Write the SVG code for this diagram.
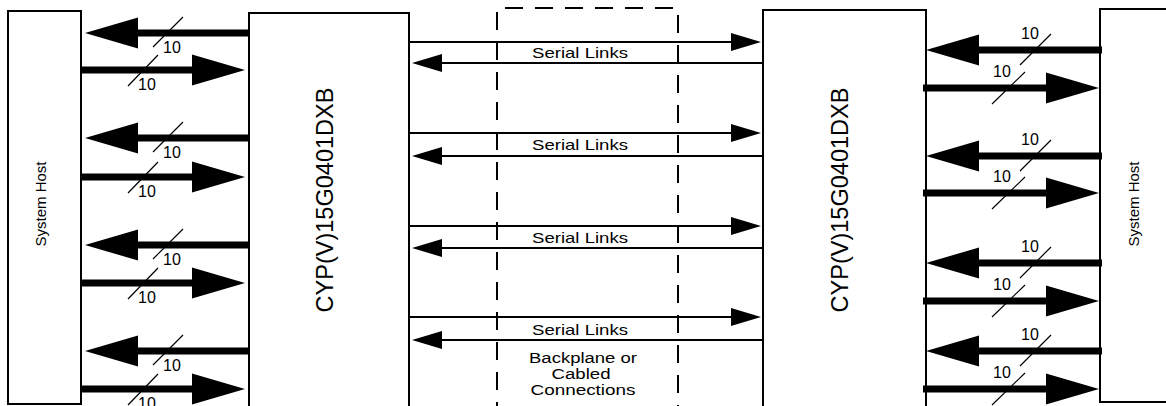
<svg xmlns="http://www.w3.org/2000/svg" width="1166" height="406" viewBox="0 0 1166 406">
<style>
.box{fill:#fff;stroke:#000;stroke-width:2}
.dash{fill:none;stroke:#000;stroke-width:2;stroke-dasharray:18 12}
.thick{stroke:#000;stroke-width:7;fill:none}
.thin{stroke:#000;stroke-width:2;fill:none}
.slash{stroke:#000;stroke-width:1.2;fill:none}
text{font-family:"Liberation Sans",Arial,Helvetica,sans-serif;fill:#000}
.n{font-size:16px}
.chip{font-size:24px}
.host{font-size:15px}
.sl{font-size:15px}
.bp{font-size:14px}
</style>
<defs>
<marker id="bigHead" markerUnits="userSpaceOnUse" markerWidth="54" markerHeight="32" refX="0" refY="15.5" orient="auto" overflow="visible">
<path d="M0,0 L53,15.5 L0,31 Z" fill="#000"/>
</marker>
<marker id="smallHead" markerUnits="userSpaceOnUse" markerWidth="31" markerHeight="19" refX="0" refY="9" orient="auto" overflow="visible">
<path d="M0,0 L30,9 L0,18 Z" fill="#000"/>
</marker>
</defs>
<rect width="1166" height="406" fill="#fff"/>

<g id="host-left">
<rect class="box" x="8" y="11" width="73" height="393"/>
<text class="host" text-anchor="middle" transform="translate(46,204) rotate(-90)">System Host</text>
</g>
<g id="chip-left">
<rect class="box" x="249" y="13" width="160" height="400"/>
<text class="chip" text-anchor="middle" textLength="225" lengthAdjust="spacingAndGlyphs" transform="translate(333,200) rotate(-90)">CYP(V)15G0401DXB</text>
</g>
<g id="backplane">
<path class="dash" d="M497,420 L497,8 L678,8 L678,420"/>
<text class="bp" x="583" y="363" text-anchor="middle" textLength="108" lengthAdjust="spacingAndGlyphs">Backplane or</text>
<text class="bp" x="581" y="379" text-anchor="middle" textLength="59" lengthAdjust="spacingAndGlyphs">Cabled</text>
<text class="bp" x="583" y="395" text-anchor="middle" textLength="105" lengthAdjust="spacingAndGlyphs">Connections</text>
</g>
<g id="chip-right">
<rect class="box" x="763" y="10" width="163" height="403"/>
<text class="chip" text-anchor="middle" textLength="225" lengthAdjust="spacingAndGlyphs" transform="translate(848,200) rotate(-90)">CYP(V)15G0401DXB</text>
</g>
<g id="host-right">
<rect class="box" x="1100" y="9" width="80" height="393"/>
<text class="host" text-anchor="middle" transform="translate(1139,204) rotate(-90)">System Host</text>
</g>

<g id="connectors">
<g id="left-buses">
<line class="thick" x1="249" y1="33" x2="138" y2="33" marker-end="url(#bigHead)"/>
<line class="thick" x1="81" y1="70" x2="192" y2="70" marker-end="url(#bigHead)"/>
<line class="thick" x1="249" y1="138" x2="138" y2="138" marker-end="url(#bigHead)"/>
<line class="thick" x1="81" y1="177" x2="192" y2="177" marker-end="url(#bigHead)"/>
<line class="thick" x1="249" y1="245" x2="138" y2="245" marker-end="url(#bigHead)"/>
<line class="thick" x1="81" y1="283" x2="192" y2="283" marker-end="url(#bigHead)"/>
<line class="thick" x1="249" y1="351" x2="138" y2="351" marker-end="url(#bigHead)"/>
<line class="thick" x1="81" y1="389" x2="192" y2="389" marker-end="url(#bigHead)"/>
<path class="slash" d="M153,47 L183,17 M128,86 L158,55 M153,152 L183,122 M128,193 L158,162 M153,259 L183,229 M128,299 L158,268 M153,365 L183,335 M128,405 L158,374"/>
<text class="n" x="163" y="53">10</text>
<text class="n" x="138" y="90">10</text>
<text class="n" x="163" y="158">10</text>
<text class="n" x="138" y="197">10</text>
<text class="n" x="163" y="265">10</text>
<text class="n" x="138" y="303">10</text>
<text class="n" x="163" y="371">10</text>
<text class="n" x="138" y="409">10</text>
</g>
<g id="serial-links">
<line class="thin" x1="409" y1="42" x2="731" y2="42" marker-end="url(#smallHead)"/>
<line class="thin" x1="763" y1="63" x2="442" y2="63" marker-end="url(#smallHead)"/>
<line class="thin" x1="409" y1="133" x2="731" y2="133" marker-end="url(#smallHead)"/>
<line class="thin" x1="763" y1="156" x2="442" y2="156" marker-end="url(#smallHead)"/>
<line class="thin" x1="409" y1="226" x2="731" y2="226" marker-end="url(#smallHead)"/>
<line class="thin" x1="763" y1="248" x2="442" y2="248" marker-end="url(#smallHead)"/>
<line class="thin" x1="409" y1="317" x2="731" y2="317" marker-end="url(#smallHead)"/>
<line class="thin" x1="763" y1="340" x2="442" y2="340" marker-end="url(#smallHead)"/>
<text class="sl" x="580" y="58" text-anchor="middle" textLength="96" lengthAdjust="spacingAndGlyphs">Serial Links</text>
<text class="sl" x="580" y="150" text-anchor="middle" textLength="96" lengthAdjust="spacingAndGlyphs">Serial Links</text>
<text class="sl" x="580" y="243" text-anchor="middle" textLength="96" lengthAdjust="spacingAndGlyphs">Serial Links</text>
<text class="sl" x="580" y="335" text-anchor="middle" textLength="96" lengthAdjust="spacingAndGlyphs">Serial Links</text>
</g>
<g id="right-buses">
<line class="thick" x1="1102" y1="50" x2="979" y2="50" marker-end="url(#bigHead)"/>
<line class="thick" x1="923" y1="88" x2="1046" y2="88" marker-end="url(#bigHead)"/>
<line class="thick" x1="1102" y1="156" x2="979" y2="156" marker-end="url(#bigHead)"/>
<line class="thick" x1="923" y1="193" x2="1046" y2="193" marker-end="url(#bigHead)"/>
<line class="thick" x1="1102" y1="263" x2="979" y2="263" marker-end="url(#bigHead)"/>
<line class="thick" x1="923" y1="301" x2="1046" y2="301" marker-end="url(#bigHead)"/>
<line class="thick" x1="1102" y1="351" x2="979" y2="351" marker-end="url(#bigHead)"/>
<line class="thick" x1="923" y1="389" x2="1046" y2="389" marker-end="url(#bigHead)"/>
<path class="slash" d="M1020,65 L1051,34 M992,104 L1025,72 M1020,171 L1051,140 M992,209 L1025,177 M1020,278 L1051,247 M992,317 L1025,285 M1020,366 L1051,335 M992,405 L1025,373"/>
<text class="n" x="1021" y="39">10</text>
<text class="n" x="993" y="77">10</text>
<text class="n" x="1021" y="145">10</text>
<text class="n" x="993" y="182">10</text>
<text class="n" x="1021" y="252">10</text>
<text class="n" x="993" y="290">10</text>
<text class="n" x="1021" y="340">10</text>
<text class="n" x="993" y="378">10</text>
</g>
</g>
</svg>
